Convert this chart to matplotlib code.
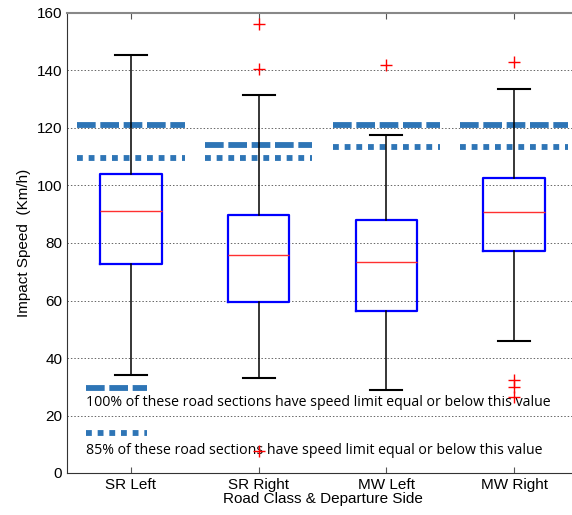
import matplotlib.pyplot as plt

categories = ["SR Left", "SR Right", "MW Left", "MW Right"]

# box statistics (km/h)
whisker_low = [34, 33, 29, 46]
quart_low = [72.7, 59.5, 56.3, 77.2]
medians = [91, 75.8, 73.4, 90.8]
quart_high = [104, 89.7, 88, 102.6]
whisker_high = [145.5, 131.5, 117.5, 133.5]
outliers = [[], [156, 140.5, 7.5], [142], [143, 32.5, 30, 26.5]]

# speed limits: 100% and 85% of road sections
limit_100 = [121, 114, 121, 121]
limit_85 = [109.5, 109.5, 113.5, 113.5]

note_100 = "100% of these road sections have speed limit equal or below this value"
note_85 = "85% of these road sections have speed limit equal or below this value"

plt.rcParams["font.family"] = ["Liberation Sans", "DejaVu Sans"]

fig = plt.figure(figsize=(5.72, 5.15), dpi=100)
ax = fig.add_axes([67 / 572, 42 / 515, 511 / 572, 460 / 515])

stats = []
for i, name in enumerate(categories):
    stats.append({
        "label": name,
        "whislo": whisker_low[i],
        "q1": quart_low[i],
        "med": medians[i],
        "q3": quart_high[i],
        "whishi": whisker_high[i],
        "fliers": outliers[i],
    })

ax.bxp(
    stats,
    positions=[1, 2, 3, 4],
    widths=0.48,
    showfliers=True,
    boxprops=dict(color="#0000ff", linewidth=1.6),
    medianprops=dict(color="#ff3030", linewidth=1.0),
    whiskerprops=dict(color="black", linewidth=1.1),
    capprops=dict(color="black", linewidth=1.5),
    capwidths=0.25,
    flierprops=dict(marker="+", markeredgecolor="red", markersize=9,
                    markeredgewidth=1.0),
    zorder=3,
)

line_color = "#2e75b6"
dashed = (0, (3.2, 0.8))
dotted = (0, (1.0, 1.0))
for i in range(len(categories)):
    pos = i + 1
    ax.plot([pos - 0.42, pos + 0.42], [limit_100[i], limit_100[i]],
            color=line_color, linewidth=4.2, linestyle=dashed,
            dash_capstyle="butt", zorder=2)
    ax.plot([pos - 0.42, pos + 0.42], [limit_85[i], limit_85[i]],
            color=line_color, linewidth=4.2, linestyle=dotted,
            dash_capstyle="butt", zorder=2)

# legend-like notes inside the plot
ax.plot([0.65, 1.13], [29.5, 29.5], color=line_color, linewidth=4.2,
        linestyle=dashed, dash_capstyle="butt")
ax.plot([0.65, 1.13], [14, 14], color=line_color, linewidth=4.2,
        linestyle=dotted, dash_capstyle="butt")
ax.text(0.65, 24.5, note_100, fontsize=10.2, family=["Open Sans", "DejaVu Sans"],
        va="center", ha="left", zorder=1)
ax.text(0.65, 8, note_85, fontsize=10.2, family=["Open Sans", "DejaVu Sans"],
        va="center", ha="left", zorder=1)

ax.set_xlim(0.5, 4.5)
ax.set_ylim(0, 160)
ax.set_yticks(range(0, 161, 20))
ax.set_xticks([1, 2, 3, 4])
ax.set_xticklabels(categories)
ax.yaxis.grid(True, linestyle=(0, (1.5, 2)), color="#666666", linewidth=0.7)
ax.set_axisbelow(True)
ax.tick_params(direction="in", labelsize=11, top=True, length=4, color="#555555")
ax.tick_params(axis="y", length=0)
for side in ["left", "bottom"]:
    ax.spines[side].set_color("#333333")
ax.spines["top"].set_color("#888888")
ax.spines["top"].set_linewidth(1.5)
ax.spines["right"].set_visible(False)

ax.set_ylabel("Impact Speed  (Km/h)", fontsize=11)
ax.set_xlabel("Road Class & Departure Side", fontsize=11, labelpad=0)

fig.savefig("out.png", dpi=100)
